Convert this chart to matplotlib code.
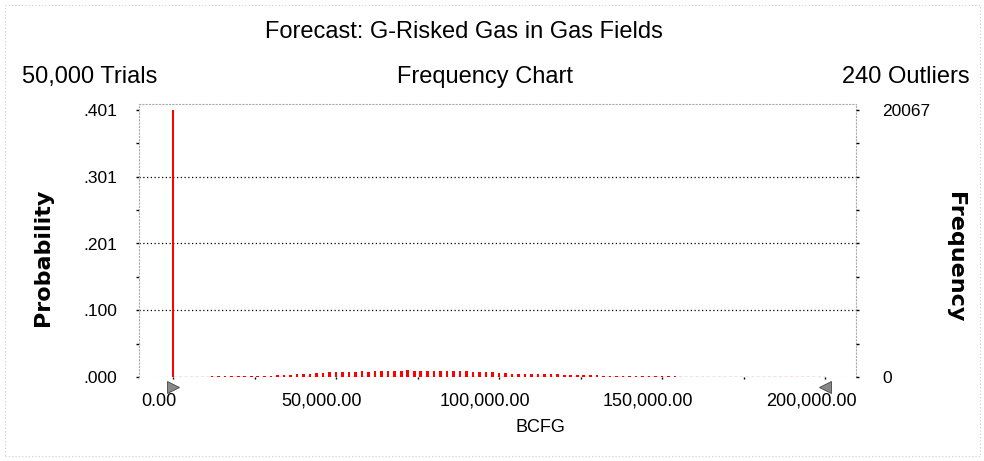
import numpy as np
import matplotlib
matplotlib.use("Agg")
import matplotlib.pyplot as plt
from matplotlib.patches import Rectangle
from matplotlib.transforms import ScaledTranslation, blended_transform_factory

# ---------------- data ----------------
trials = 50000
outliers = 240
bin_width = 2000.0
counts = [20067, 0, 0, 0, 0, 0,
          40, 45, 60, 85, 85, 90, 105, 90, 110, 105, 130, 170, 175, 215,
          220, 260, 300, 265, 345, 345, 390, 350, 390, 430, 390, 430, 435,
          430, 475, 435, 520, 430, 475, 440, 475, 430, 435, 475, 430, 425,
          390, 385, 390, 345, 300, 305, 260, 255, 260, 255, 215, 255, 215,
          210, 170, 175, 170, 130, 130, 125, 105, 85, 90, 85, 85, 70, 70,
          50, 55, 45, 40, 45, 25]
max_count = 20067
x_ticks = [0, 50000, 100000, 150000, 200000]
x_tick_labels = ["0.00", "50,000.00", "100,000.00", "150,000.00", "200,000.00"]
y_tick_labels = [".000", ".100", ".201", ".301", ".401"]
freq_tick_labels = ["0", "20067"]
display_range = [0, 200000]

# ---------------- figure ----------------
plt.rcParams['font.family'] = ['Liberation Sans', 'DejaVu Sans']
fig = plt.figure(figsize=(9.84, 4.61), dpi=100)
ax = fig.add_axes([139/984, 1-377/461, (856-139)/984, (377-104)/461])

positions = np.arange(len(counts)) * bin_width
prob = np.array(counts) / trials
ymax = max_count / trials
ax.bar(positions, prob, width=800, color='#ff0000', linewidth=0, zorder=3)

ax.set_xlim(-10430, 209500)
ax.set_ylim(0, ymax * 273 / 267)

# baseline: red dotted within display range, gray elsewhere
ax.axhline(0, color='#bbbbbb', lw=0.8, ls=(0, (1, 2)), zorder=1)
ax.plot(display_range, [0, 0], color='#ff5050', lw=1.0, ls=(0, (2, 2)), zorder=2)

# gridlines
yt = [ymax * k / 4 for k in range(5)]
for y in yt[1:4]:
    ax.axhline(y, color='black', lw=0.9, ls=(0, (1, 2)), zorder=1)

for s in ['top', 'left', 'right']:
    ax.spines[s].set_color('#aaaaaa')
    ax.spines[s].set_linestyle((0, (1, 2)))
    ax.spines[s].set_linewidth(0.8)
ax.spines['bottom'].set_visible(False)

ax.set_yticks(yt)
ax.set_yticklabels(y_tick_labels)
ax.set_yticks([ymax * (k + 0.5) / 4 for k in range(4)], minor=True)
ax.tick_params(axis='y', which='both', length=2, width=1, color='black',
               labelsize=12.5, pad=14)

ax.set_xticks(x_ticks)
ax.set_xticklabels(x_tick_labels)
ax.set_xticks(np.arange(0, 200001, 25000), minor=True)
ax.tick_params(axis='x', which='both', length=1.5, width=1, color='black',
               labelsize=13, pad=10)
offset = ScaledTranslation(-14/100, 0, fig.dpi_scale_trans)
for lab in ax.get_xticklabels():
    lab.set_transform(lab.get_transform() + offset)

ax2 = ax.twinx()
ax2.set_ylim(0, max_count * 273 / 267)
ax2.set_yticks([0, max_count])
ax2.set_yticklabels(freq_tick_labels)
ax2.set_yticks([max_count * (k + 0.5) / 4 for k in range(4)] +
               [max_count * k / 4 for k in range(1, 4)], minor=True)
ax2.tick_params(axis='y', which='both', length=2, width=1, color='black',
                labelsize=12.5, pad=17)
for s in ax2.spines.values():
    s.set_visible(False)

# range arrows
tr = blended_transform_factory(ax.transData, ax.transAxes)
ax.plot([display_range[0]], [-0.035], marker='>', ms=9, color='#888888',
        mec='#444444', mew=0.6, transform=tr, clip_on=False, zorder=5)
ax.plot([display_range[1]], [-0.035], marker='<', ms=9, color='#888888',
        mec='#444444', mew=0.6, transform=tr, clip_on=False, zorder=5)

# texts
fig.text(464/984, 1-32/461, "Forecast: G-Risked Gas in Gas Fields",
         ha='center', va='center', fontsize=17)
fig.text(22/984, 1-77/461, f"{trials:,} Trials", ha='left', va='center', fontsize=17)
fig.text(485/984, 1-77/461, "Frequency Chart", ha='center', va='center', fontsize=17)
fig.text(970/984, 1-77/461, f"{outliers} Outliers", ha='right', va='center', fontsize=17)
fig.text(540/984, 1-427/461, "BCFG", ha='center', va='center', fontsize=13)
fig.text(43/984, 1-257/461, "Probability", rotation=90, ha='center', va='center',
         fontsize=16, fontweight='bold', family=['DejaVu Sans'])
fig.text(955/984, 1-257/461, "Frequency", rotation=270, ha='center', va='center',
         fontsize=16, fontweight='bold', family=['DejaVu Sans'])

# outer dotted border
fig.patches.append(Rectangle((5/984, 5/461), 975/984, 451/461, transform=fig.transFigure,
                             fill=False, ec='#cccccc', lw=0.8, ls=(0, (1, 2))))

fig.savefig("out.png", dpi=100)
